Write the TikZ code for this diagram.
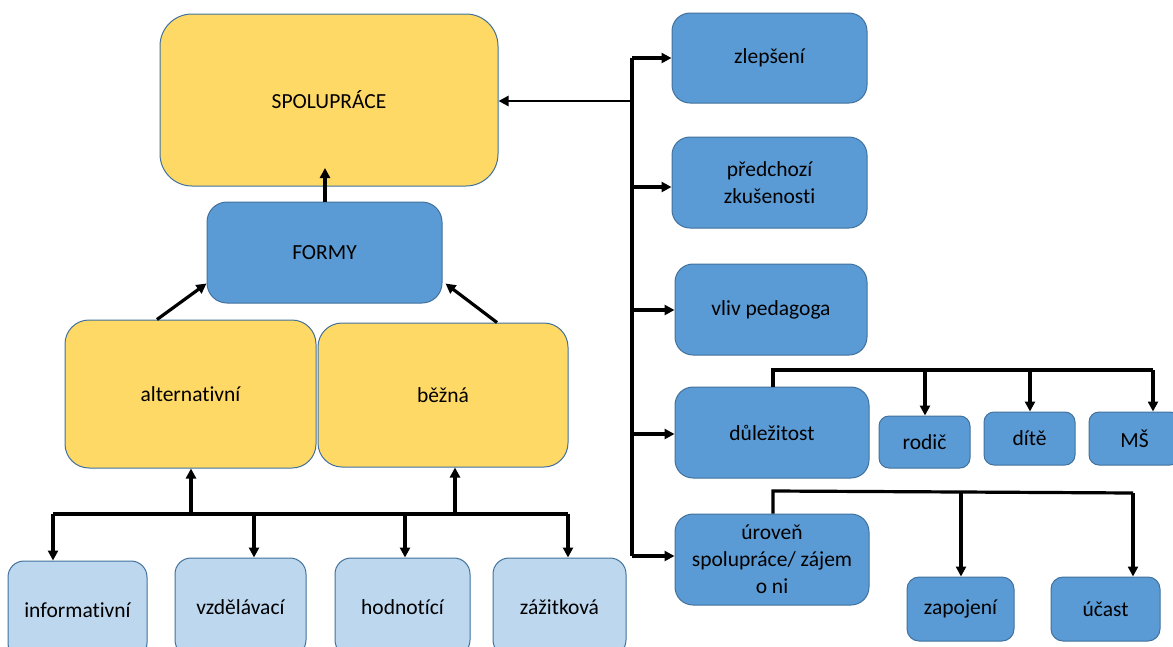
\documentclass[tikz,border=0pt]{standalone}
\usepackage{fontspec}
\setmainfont{Carlito}[Ligatures=NoCommon]
\usetikzlibrary{arrows.meta,calc}
\definecolor{yel}{HTML}{FFD966}
\definecolor{blu}{HTML}{5B9BD5}
\definecolor{lblu}{HTML}{BDD7EE}
\definecolor{edge}{HTML}{41719C}
\tikzset{
  box/.style={draw=edge, line width=1pt, rectangle, rounded corners=16pt, align=center,
    font=\fontsize{21.5}{27}\selectfont, text=black, inner sep=2pt},
  ybox/.style={box, fill=yel},
  bbox/.style={box, fill=blu},
  lbox/.style={box, fill=lblu},
  conn/.style={line width=3.2pt, black},
  arr/.style={conn, -{Triangle[length=10pt,width=10pt]}},
}
\begin{document}
\begin{tikzpicture}[x=1pt,y=-1pt]
\useasboundingbox (0,0) rectangle (1173,646);
\clip (0,0) rectangle (1173,646);
% left side
\node[ybox, rounded corners=32pt, minimum width=338pt, minimum height=172pt] (spol) at (329,100) {SPOLUPRÁCE};
\node[bbox, rounded corners=20pt, minimum width=235pt, minimum height=101pt] (formy) at (324.5,252.5) {FORMY};
\node[ybox, rounded corners=24pt, minimum width=251pt, minimum height=148pt] (alt) at (190.5,394) {alternativní};
\node[ybox, rounded corners=24pt, minimum width=250pt, minimum height=144pt] (bez) at (443,395) {běžná};
\node[lbox, minimum width=139pt, minimum height=98pt] (info) at (77.5,610) {informativní};
\node[lbox, minimum width=131pt, minimum height=98pt] (vzd) at (240.5,607) {vzdělávací};
\node[lbox, minimum width=135pt, minimum height=98pt] (hod) at (402.5,607) {hodnotící};
\node[lbox, minimum width=133pt, minimum height=98pt] (zaz) at (559.5,607) {zážitková};
% right side
\node[bbox, rounded corners=18pt, minimum width=195pt, minimum height=90pt] (zlep) at (769.5,58) {zlepšení};
\node[bbox, rounded corners=18pt, minimum width=195pt, minimum height=91pt] (pred) at (769.5,182.5) {předchozí\\zkušenosti};
\node[bbox, rounded corners=18pt, minimum width=192pt, minimum height=91pt] (vliv) at (771,309.5) {vliv pedagoga};
\node[bbox, rounded corners=18pt, minimum width=194pt, minimum height=91pt] (dul) at (772,432.5) {důležitost};
\node[bbox, rounded corners=18pt, minimum width=194pt, minimum height=91pt] (uro) at (772,559.5) {úroveň\\spolupráce/ zájem\\o ni};
\node[bbox, rounded corners=10pt, minimum width=91pt, minimum height=52pt] (rod) at (924.5,442) {rodič};
\node[bbox, rounded corners=10pt, minimum width=91pt, minimum height=53pt] (dite) at (1029.5,438.5) {dítě};
\node[bbox, rounded corners=10pt, minimum width=91pt, minimum height=53pt] (ms) at (1134.5,438.5) {MŠ};
\node[bbox, rounded corners=12pt, minimum width=107pt, minimum height=64pt] (zap) at (960.5,609) {zapojení};
\node[bbox, rounded corners=12pt, minimum width=109pt, minimum height=64pt] (uca) at (1105.5,609) {účast};
% trunk
\coordinate (tz) at (632,58);
\coordinate (ts) at (632,101);
\coordinate (tp) at (632,187);
\coordinate (tv) at (632,310);
\coordinate (td) at (632,434);
\coordinate (tu) at (632,556);
\draw[conn, line width=4pt] (tz) -- (tu);
\draw[arr] (tz) -- (zlep.west |- tz);
\draw[arr, line width=2.6pt] (ts) -- (spol.east |- ts);
\draw[arr] (tp) -- (pred.west |- tp);
\draw[arr] (tv) -- (vliv.west |- tv);
\draw[arr] (td) -- (dul.west |- td);
\draw[arr] (tu) -- (uro.west |- tu);
% formy to spolupráce
\coordinate (sp) at (325,168);
\draw[arr] (formy.north -| sp) -- (sp);
\draw[arr] ($(alt.north)+(-33.5,0)$) -- ($(formy.south west)+(0,-20)$);
\draw[arr] ($(bez.north)+(54,0)$) -- ($(formy.south east)+(3,-20)$);
% bottom bus
\coordinate (b0) at (53,514);
\coordinate (b1) at (191,514);
\coordinate (b2) at (254,514);
\coordinate (b3) at (405,514);
\coordinate (b4) at (455,514);
\coordinate (b5) at (568,514);
\draw[conn] (b0) -- (b5);
\draw[arr] (b1) -- (b1 |- alt.south);
\draw[arr] (b4) -- (b4 |- bez.south);
\draw[arr] (b0) -- (b0 |- info.north);
\draw[arr] (b2) -- (b2 |- vzd.north);
\draw[arr] (b3) -- (b3 |- hod.north);
\draw[arr] (b5) -- (b5 |- zaz.north);
% důležitost bus
\coordinate (d0) at (773,370);
\coordinate (d1) at (925,370);
\coordinate (d2) at (1030,370);
\coordinate (d3) at (1153,370);
\draw[conn] (d0 |- dul.north) -- (d0) -- (d3);
\draw[arr] (d1) -- (d1 |- rod.north);
\draw[arr] (d2) -- (d2 |- dite.north);
\draw[arr] (d3) -- (d3 |- ms.north);
% úroveň bus
\coordinate (u0) at (773,491);
\coordinate (u1) at (961,492);
\coordinate (u2) at (1133,493);
\draw[conn] (u0 |- uro.north) -- (u0) -- (u1) -- (u2);
\draw[arr] (u1) -- (u1 |- zap.north);
\draw[arr] (u2) -- (u2 |- uca.north);
\end{tikzpicture}
\end{document}
